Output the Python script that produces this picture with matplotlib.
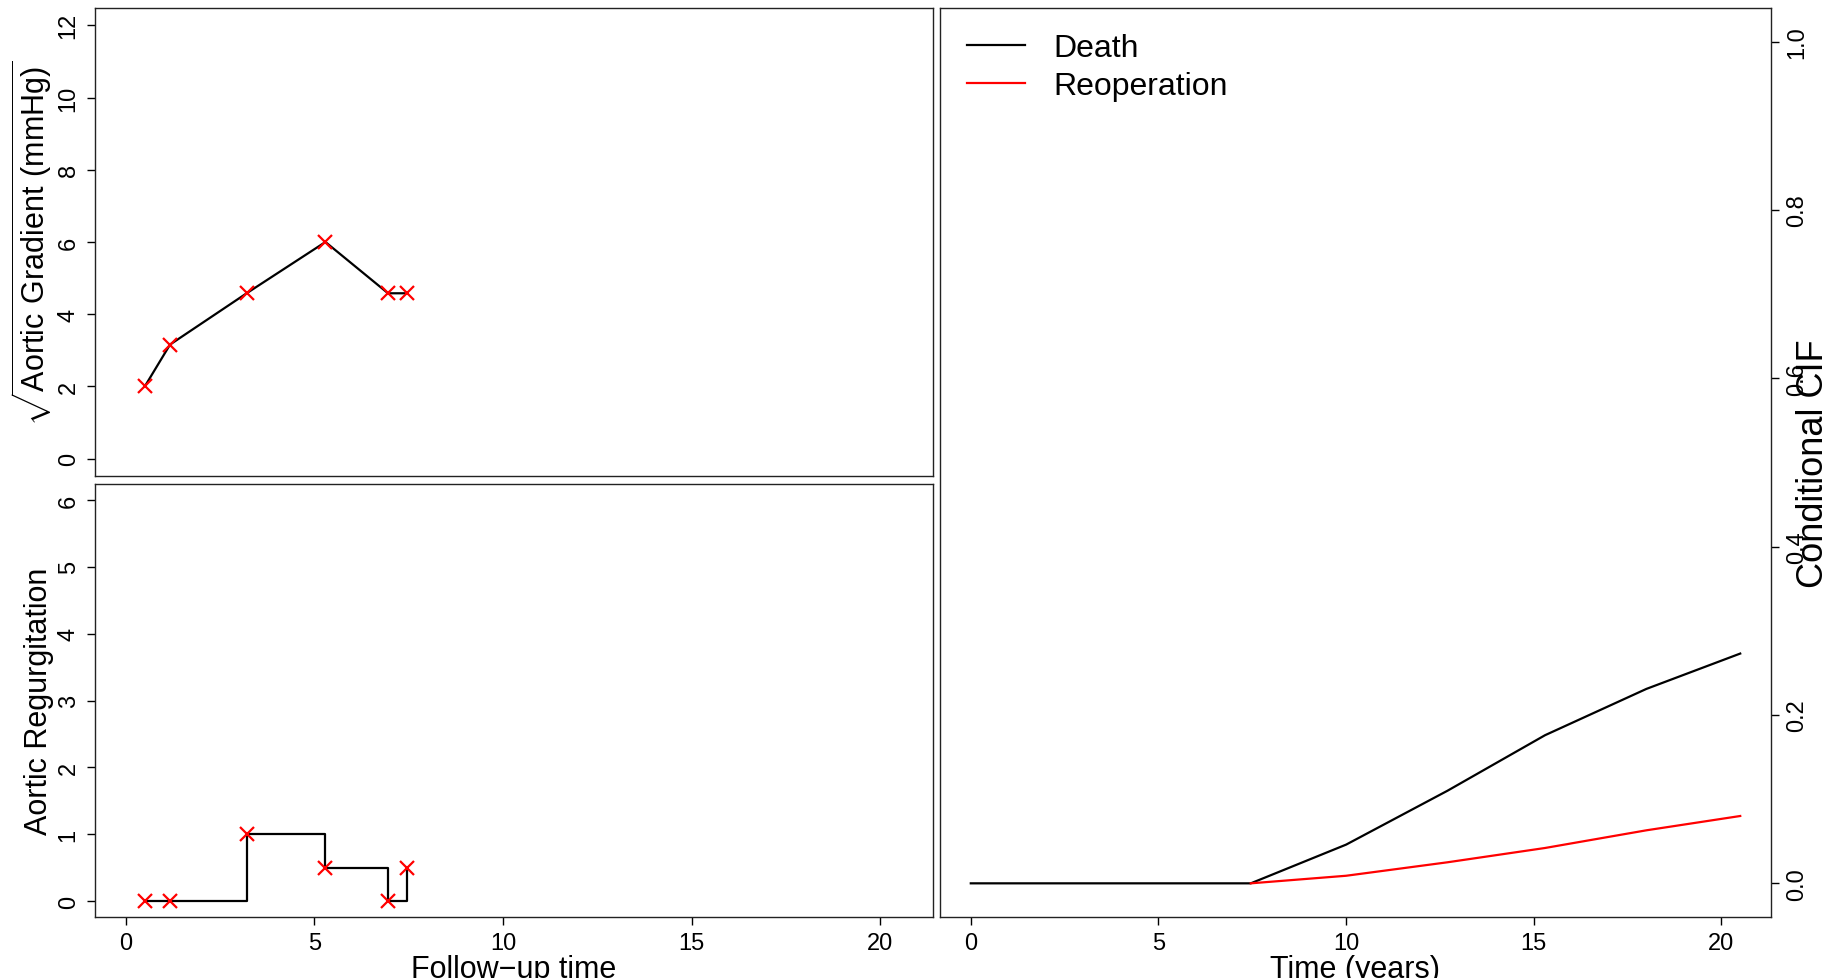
import matplotlib
matplotlib.use('Agg')
import matplotlib.pyplot as plt

plt.rcParams['font.family'] = ['Liberation Sans', 'DejaVu Sans']
plt.rcParams['mathtext.fontset'] = 'custom'
plt.rcParams['mathtext.rm'] = 'Liberation Sans'

# longitudinal measurements
visit_time = [0.5, 1.17, 3.2, 5.29, 6.95, 7.46]
sqrt_gradient = [2.0, 3.16, 4.58, 6.0, 4.58, 4.58]
regurgitation = [0, 0, 1, 0.5, 0, 0.5]

# conditional cumulative incidence
cif_time = [0, 7.46, 10.0, 12.7, 15.3, 18.0, 20.5]
death_cif = [0, 0, 0.046, 0.110, 0.176, 0.231, 0.273]
reop_time = [7.46, 10.0, 12.7, 15.3, 18.0, 20.5]
reop_cif = [0, 0.009, 0.025, 0.042, 0.063, 0.080]

W, H = 1843, 979
fig = plt.figure(figsize=(W / 100, H / 100), dpi=100)


def px_axes(x0, y0, x1, y1):
    return fig.add_axes([x0 / W, 1 - y1 / H, (x1 - x0) / W, (y1 - y0) / H])


ax_top = px_axes(95, 9, 933, 477)
ax_bot = px_axes(95, 485, 933, 918)
ax_cif = px_axes(940, 9, 1771, 918)

for ax in (ax_top, ax_bot, ax_cif):
    for s in ax.spines.values():
        s.set_linewidth(1.0)
        s.set_color('#222222')
    ax.tick_params(direction='out', length=6, width=1.0, labelsize=17, pad=5)

# top left: sqrt aortic gradient
ax_top.plot(visit_time, sqrt_gradient, color='black', lw=1.6)
ax_top.plot(visit_time, sqrt_gradient, ls='none', marker='x', color='red',
            ms=10, mew=1.6)
ax_top.set_xlim(-0.82, 21.4)
ax_top.set_ylim(-0.48, 12.48)
ax_top.set_yticks([0, 2, 4, 6, 8, 10, 12])
ax_top.set_xticks([])
for t in ax_top.get_yticklabels():
    t.set_rotation(90)
    t.set_va('center')
ax_top.set_ylabel(r'$\sqrt{\mathrm{Aortic\ Gradient\ (mmHg)}}$', fontsize=22,
                  labelpad=3)

# bottom left: aortic regurgitation
ax_bot.plot(visit_time, regurgitation, color='black', lw=1.6,
            drawstyle='steps-post')
ax_bot.plot(visit_time, regurgitation, ls='none', marker='x', color='red',
            ms=10, mew=1.6)
ax_bot.set_xlim(-0.82, 21.4)
ax_bot.set_ylim(-0.24, 6.24)
ax_bot.set_yticks([0, 1, 2, 3, 4, 5, 6])
ax_bot.set_xticks([0, 5, 10, 15, 20])
for t in ax_bot.get_yticklabels():
    t.set_rotation(90)
    t.set_va('center')
ax_bot.set_ylabel('Aortic Regurgitation', fontsize=22, labelpad=3)
ax_bot.set_xlabel('Follow\u2212up time', fontsize=22, labelpad=0)

# right: conditional CIF
ax_cif.plot(cif_time, death_cif, color='black', lw=1.6, label='Death')
ax_cif.plot(reop_time, reop_cif, color='red', lw=1.6, label='Reoperation')
ax_cif.set_xlim(-0.82, 21.32)
ax_cif.set_ylim(-0.04, 1.04)
ax_cif.set_xticks([0, 5, 10, 15, 20])
ax_cif.set_yticks([0.0, 0.2, 0.4, 0.6, 0.8, 1.0])
ax_cif.set_yticklabels(['0.0', '0.2', '0.4', '0.6', '0.8', '1.0'])
ax_cif.yaxis.tick_right()
for t in ax_cif.get_yticklabels():
    t.set_rotation(90)
    t.set_va('center')
ax_cif.set_xlabel('Time (years)', fontsize=22, labelpad=0)
ax_cif.text(1.051, 0.5, 'Conditional CIF', transform=ax_cif.transAxes,
            rotation=90, ha='center', va='center', fontsize=26)
ax_cif.legend(loc='upper left', bbox_to_anchor=(0.033, 0.972), frameon=False,
              fontsize=23, handlelength=1.8, handletextpad=0.9,
              labelspacing=0.25, borderpad=0, borderaxespad=0)

fig.savefig('out.png', dpi=100)
